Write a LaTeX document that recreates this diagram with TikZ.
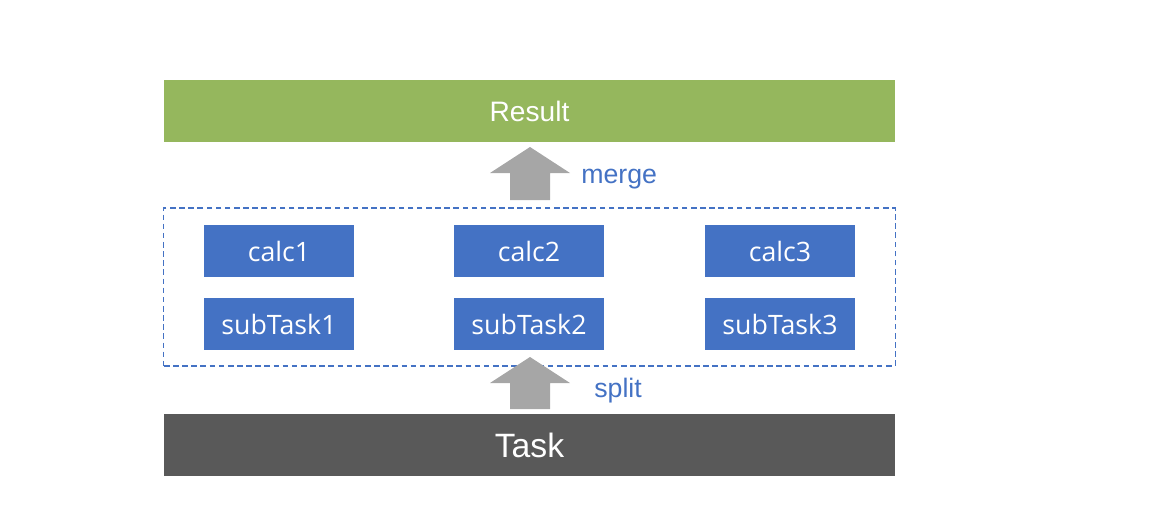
\documentclass[tikz,border=0pt]{standalone}
\usepackage{fontspec}
\setmainfont{Liberation Sans}
\newfontfamily\segoe{Open Sans}
\definecolor{resgreen}{HTML}{95B75D}
\definecolor{taskgray}{HTML}{595959}
\definecolor{calcblue}{HTML}{4472C4}
\definecolor{arrgray}{HTML}{A6A6A6}
\usetikzlibrary{positioning}
\begin{document}
\begin{tikzpicture}[x=0.025cm,y=-0.025cm,
  bar/.style={minimum width=18.275cm, minimum height=1.55cm, inner sep=0pt, text=white},
  calcbox/.style={fill=calcblue, minimum width=3.75cm, minimum height=1.275cm, inner sep=0pt, text=white, font=\segoe\fontsize{19}{23}\selectfont},
  lbl/.style={text=calcblue, font=\fontsize{19}{23}\selectfont, inner sep=0pt},
  blockarrow/.style={fill=arrgray}]
\useasboundingbox (0,0) rectangle (1170,520);
\node[bar, fill=resgreen, font=\fontsize{20}{24}\selectfont] (result) at (529.5,111) {Result};
\node[bar, fill=taskgray, font=\fontsize{24}{28}\selectfont] (task) at (529.5,445) {Task};
\node[draw=calcblue, dash pattern=on 4pt off 2.5pt, line width=0.8pt, minimum width=18.275cm, minimum height=3.95cm, inner sep=0pt] (group) at (529.5,287) {};
\node[calcbox] (c1) at (279,251) {calc1};
\node[calcbox] (c2) at (529,251) {calc2};
\node[calcbox] (c3) at (780,251) {calc3};
\node[calcbox] (s1) at (279,324) {subTask1};
\node[calcbox] (s2) at (529,324) {subTask2};
\node[calcbox] (s3) at (780,324) {subTask3};
% merge arrow
\fill[blockarrow] (510,200) -- (510,173) -- (490,173) -- (530,147) -- (570,173) -- (550,173) -- (550,200) -- cycle;
\node[lbl, anchor=west] (merge) at (581,179) {merge};
% split arrow
\fill[blockarrow] (510,409) -- (510,383) -- (490,383) -- (530,357) -- (570,383) -- (550,383) -- (550,409) -- cycle;
\node[lbl, anchor=west] (split) at (594,391) {split};
\end{tikzpicture}
\end{document}
